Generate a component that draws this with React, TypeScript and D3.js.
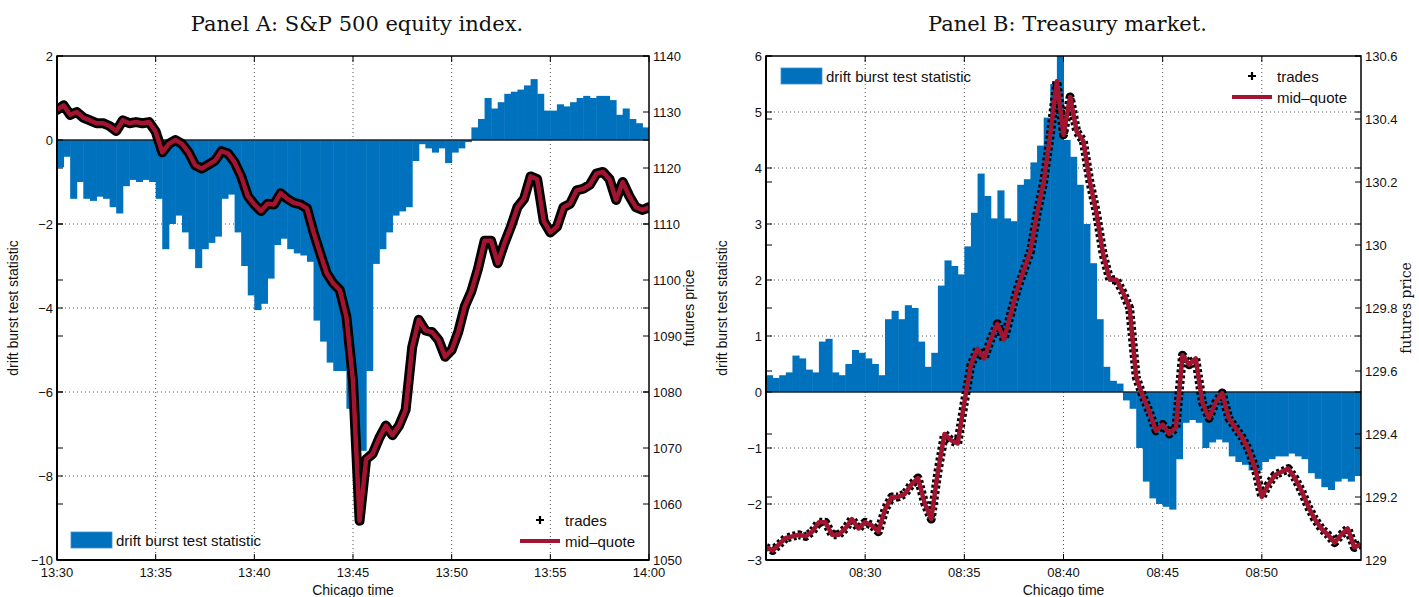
import React from 'react'
import * as d3 from 'd3'

// Panel A: S&P 500 futures, 13:30 - 14:00, one value every 20 seconds
const A_DRIFT = [
  -0.65, -0.4, -1.4, -1.0, -1.4, -1.45, -1.35, -1.4, -1.6, -1.75,
  -1.1, -0.95, -1.0, -0.95, -1.0, -1.4, -2.6, -2.0, -1.8, -2.2,
  -2.6, -3.05, -2.6, -2.45, -2.3, -1.4, -1.3, -2.2, -3.0, -3.7,
  -4.05, -3.9, -3.3, -2.5, -2.35, -2.6, -2.7, -2.75, -2.9, -4.3,
  -4.8, -5.3, -5.5, -5.5, -6.4, -7.8, -7.4, -5.5, -2.95, -2.6,
  -2.2, -1.8, -1.7, -1.6, -0.5, -0.1, -0.2, -0.3, -0.2, -0.55,
  -0.3, -0.2, -0.05, 0.3, 0.5, 1.0, 0.75, 0.9, 1.1, 1.15,
  1.2, 1.3, 1.45, 1.1, 0.7, 0.7, 0.85, 0.8, 0.9, 1.0,
  1.05, 1.0, 1.05, 1.05, 0.95, 0.6, 0.75, 0.5, 0.4, 0.3
]
const A_PRICE = [
  1130.4, 1131.2, 1129.5, 1130, 1129, 1128.5, 1128, 1128, 1127.5, 1126.6,
  1128.5, 1128, 1128.2, 1128, 1128.2, 1126.5, 1122.8, 1124.3, 1125, 1124.3,
  1122.8, 1120.5, 1119.9, 1120.6, 1121.3, 1123, 1122.6, 1121, 1118.5, 1115,
  1113.5, 1112.3, 1113.6, 1113.5, 1115.5, 1114.5, 1113.8, 1113.5, 1112.8, 1108.5,
  1104.8, 1101.2, 1099.4, 1098.2, 1093.4, 1082, 1057, 1068, 1069, 1071.8,
  1074, 1072.3, 1074, 1076.8, 1088, 1092.9, 1091, 1090.7, 1089.3, 1086.3,
  1087.5, 1090.7, 1095.3, 1098, 1102, 1107, 1107, 1103, 1106.5, 1109.5,
  1113, 1114.5, 1118.5, 1118, 1110.5, 1108.5, 1109.5, 1113, 1113.6, 1116,
  1116.3, 1117, 1119, 1119.3, 1118, 1114.3, 1117.5, 1115, 1113, 1112.5,
  1113
]

// Panel B: Treasury futures, 08:25 - 08:55, one value every 20 seconds
const B_DRIFT = [
  0.3, 0.25, 0.3, 0.35, 0.65, 0.6, 0.4, 0.35, 0.9, 0.95,
  0.35, 0.3, 0.5, 0.75, 0.7, 0.6, 0.5, 0.3, 1.3, 1.45,
  1.3, 1.55, 1.5, 0.9, 0.45, 0.7, 1.9, 2.35, 2.25, 2.1,
  2.6, 3.2, 3.9, 3.5, 3.1, 3.6, 3.1, 3.05, 3.7, 3.8,
  4.1, 4.4, 4.9, 5.5, 6.1, 4.5, 4.2, 3.7, 3.0, 2.3,
  1.3, 0.45, 0.2, 0.15, -0.15, -0.3, -1.0, -1.6, -1.9, -2.0,
  -2.05, -2.1, -1.2, -0.55, -0.5, -0.55, -1.0, -0.9, -0.85, -0.9,
  -1.15, -1.25, -1.3, -1.4, -1.4, -1.25, -1.2, -1.15, -1.15, -1.1,
  -1.15, -1.2, -1.45, -1.55, -1.7, -1.75, -1.6, -1.55, -1.6, -1.5
]
const B_PRICE = [
  129.04, 129.03, 129.05, 129.07, 129.075, 129.08, 129.075, 129.09, 129.12, 129.12,
  129.08, 129.08, 129.1, 129.13, 129.1, 129.12, 129.11, 129.09, 129.16, 129.2,
  129.2, 129.21, 129.24, 129.26, 129.18, 129.13, 129.28, 129.4, 129.38, 129.37,
  129.5, 129.62, 129.67, 129.64, 129.7, 129.75, 129.7, 129.78, 129.86, 129.92,
  129.98, 130.1, 130.2, 130.35, 130.52, 130.35, 130.47, 130.36, 130.33, 130.2,
  130.1, 129.97, 129.89, 129.89, 129.85, 129.8, 129.58, 129.52, 129.47, 129.41,
  129.43, 129.4, 129.42, 129.65, 129.62, 129.64, 129.5, 129.45, 129.5, 129.53,
  129.45, 129.42, 129.39, 129.35, 129.29, 129.2, 129.24, 129.27, 129.28, 129.29,
  129.26, 129.22, 129.17, 129.13, 129.1, 129.08, 129.055, 129.08, 129.1, 129.04,
  129.05
]

const A_LEFT_TICKS = [-10, -8, -6, -4, -2, 0, 2]
const A_RIGHT_TICKS = [1050, 1060, 1070, 1080, 1090, 1100, 1110, 1120, 1130, 1140]
const A_X_TICKS = ['13:30', '13:35', '13:40', '13:45', '13:50', '13:55', '14:00']
const B_LEFT_TICKS = [-3, -2, -1, 0, 1, 2, 3, 4, 5, 6]
const B_RIGHT_TICKS = [129, 129.2, 129.4, 129.6, 129.8, 130, 130.2, 130.4, 130.6]
const B_X_TICKS = ['08:30', '08:35', '08:40', '08:45', '08:50']

const BLUE = '#0072BD'
const RED = '#A2142F'
const SANS = '"Liberation Sans", Arial, Helvetica, sans-serif'
const SERIF = '"DejaVu Serif", Georgia, serif'

const toMin = (s: string) => {
  const [h, m] = s.split(':').map(Number)
  return h * 60 + m
}
const fmtNum = (d: number) => (d < 0 ? '\u2212' + Math.abs(d) : String(+d.toFixed(1)))

interface PanelProps {
  id: string
  title: string
  l: number
  r: number
  t: number
  b: number
  xStart: string
  xEnd: string
  xTicks: string[]
  leftDomain: [number, number]
  leftTicks: number[]
  rightDomain: [number, number]
  rightTicks: number[]
  drift: number[]
  price: number[]
  dashedTrades: boolean
  rightLabelFont: string
  rightLabelOffset: number
  legendTop: boolean
}

const Panel: React.FC<PanelProps> = p => {
  const x0 = toMin(p.xStart)
  const x1 = toMin(p.xEnd)
  const step = 1 / 3
  const x = d3.scaleLinear().domain([x0, x1]).range([p.l, p.r])
  const yL = d3.scaleLinear().domain(p.leftDomain).range([p.b, p.t])
  const yR = d3.scaleLinear().domain(p.rightDomain).range([p.b, p.t])
  const line = d3.line<number>()
    .x((_, i) => x(x0 + i * step))
    .y(d => yR(d))
  const pricePath = line(p.price) ?? ''
  const cx = (p.l + p.r) / 2
  const cy = (p.t + p.b) / 2
  const tickLen = 6

  // legend anchors
  const lgLeft = p.legendTop
    ? { x: p.l + 15, y: p.t + 12 }
    : { x: p.l + 14, y: p.b - 28 }
  const lgRight = p.legendTop
    ? { x: p.r - 129, y: p.t + 20 }
    : { x: p.r - 129, y: p.b - 40 }

  return (
    <g>
      <defs>
        <clipPath id={`clip-${p.id}`}>
          <rect x={p.l} y={p.t} width={p.r - p.l} height={p.b - p.t} />
        </clipPath>
      </defs>
      <text x={cx + 4} y={31} textAnchor="middle" fontFamily={SERIF} fontSize={21} fill="#111">
        {p.title}
      </text>

      {/* grid */}
      <g stroke="#555" strokeWidth={1} strokeDasharray="1 3">
        {p.xTicks.map(s => toMin(s)).filter(v => v > x0 && v < x1).map(v => (
          <line key={v} x1={x(v)} x2={x(v)} y1={p.t} y2={p.b} />
        ))}
        {p.leftTicks.filter(v => v !== 0 && v > p.leftDomain[0] && v < p.leftDomain[1]).map(v => (
          <line key={v} x1={p.l} x2={p.r} y1={yL(v)} y2={yL(v)} />
        ))}
      </g>

      <g clipPath={`url(#clip-${p.id})`}>
        {/* drift burst bars */}
        <g fill={BLUE}>
          {p.drift.map((v, i) => {
            const xa = x(x0 + i * step)
            const xb = x(x0 + (i + 1) * step)
            return (
              <rect key={i} x={xa} width={xb - xa + 0.5}
                y={Math.min(yL(v), yL(0))} height={Math.abs(yL(v) - yL(0))} />
            )
          })}
        </g>
        <line x1={p.l} x2={p.r} y1={yL(0)} y2={yL(0)} stroke="#1a2430" strokeWidth={1.3} />
        {/* trades band and mid-quote */}
        {p.dashedTrades ? (
          <path d={pricePath} fill="none" stroke="#000" strokeWidth={9}
            strokeDasharray="3 2.5" strokeLinejoin="round" />
        ) : (
          <path d={pricePath} fill="none" stroke="#000" strokeWidth={10}
            strokeLinejoin="round" strokeLinecap="round" />
        )}
        <path d={pricePath} fill="none" stroke={RED} strokeWidth={4.5} strokeLinejoin="round" />
      </g>

      {/* box */}
      <rect x={p.l} y={p.t} width={p.r - p.l} height={p.b - p.t} fill="none" stroke="#000" strokeWidth={1.5} />
      <line x1={p.l} x2={p.r} y1={p.b} y2={p.b} stroke="#000" strokeWidth={2} />
      <line x1={p.l} x2={p.l} y1={p.t} y2={p.b} stroke="#000" strokeWidth={2} />

      {/* ticks, inward on all four sides */}
      <g stroke="#000" strokeWidth={1}>
        {p.xTicks.map(s => (
          <g key={s}>
            <line x1={x(toMin(s))} x2={x(toMin(s))} y1={p.b} y2={p.b - tickLen} />
            <line x1={x(toMin(s))} x2={x(toMin(s))} y1={p.t} y2={p.t + tickLen} />
          </g>
        ))}
        {p.leftTicks.map(v => (
          <g key={'l' + v}>
            <line x1={p.l} x2={p.l + tickLen} y1={yL(v)} y2={yL(v)} />
            <line x1={p.r} x2={p.r - tickLen} y1={yL(v)} y2={yL(v)} />
          </g>
        ))}
        {p.rightTicks.map(v => (
          <g key={'r' + v}>
            <line x1={p.l} x2={p.l + tickLen} y1={yR(v)} y2={yR(v)} />
            <line x1={p.r} x2={p.r - tickLen} y1={yR(v)} y2={yR(v)} />
          </g>
        ))}
      </g>

      {/* tick labels */}
      <g fontFamily={SANS} fontSize={13} fill="#111">
        {p.xTicks.map(s => (
          <text key={s} x={x(toMin(s))} y={p.b + 17} textAnchor="middle">{s}</text>
        ))}
        {p.leftTicks.map(v => (
          <text key={'l' + v} x={p.l - 4} y={yL(v)} dy="0.35em" textAnchor="end">{fmtNum(v)}</text>
        ))}
        {p.rightTicks.map(v => (
          <text key={'r' + v} x={p.r + 4} y={yR(v)} dy="0.35em" textAnchor="start">{fmtNum(v)}</text>
        ))}
      </g>

      {/* axis labels */}
      <text x={cx} y={p.b + 35} textAnchor="middle" fontFamily={SANS} fontSize={14} fill="#111">Chicago time</text>
      <text transform={`translate(${p.l - 39},${cy}) rotate(-90)`} textAnchor="middle"
        fontFamily={SANS} fontSize={14} fill="#111">drift burst test statistic</text>
      <text transform={`translate(${p.r + p.rightLabelOffset},${cy}) rotate(-90)`} textAnchor="middle"
        fontFamily={p.rightLabelFont} fontSize={14} fill="#111">futures price</text>

      {/* legends */}
      <g fontFamily={SANS} fontSize={15} fill="#111">
        <rect x={lgLeft.x} y={lgLeft.y} width={41} height={16} fill={BLUE} stroke="#3d8fd0" strokeWidth={0.8} />
        <text x={lgLeft.x + 45} y={lgLeft.y + 14}>drift burst test statistic</text>

        <path d={`M${lgRight.x + 20 - 4},${lgRight.y}H${lgRight.x + 20 + 4}M${lgRight.x + 20},${lgRight.y - 4}V${lgRight.y + 4}`}
          stroke="#000" strokeWidth={2.2} />
        <text x={lgRight.x + 45} y={lgRight.y + 6}>trades</text>
        <line x1={lgRight.x} x2={lgRight.x + 40} y1={lgRight.y + 21} y2={lgRight.y + 21} stroke={RED} strokeWidth={4} />
        <text x={lgRight.x + 45} y={lgRight.y + 27}>mid{'\u2013'}quote</text>
      </g>
    </g>
  )
}

export default function App() {
  return (
    <svg width={1419} height={597} style={{ position: 'absolute', left: 0, top: 0, background: '#fff' }}>
      <rect width={1419} height={597} fill="#fff" />
      <Panel id="a" title="Panel A: S&P 500 equity index."
        l={57} r={649} t={56} b={560}
        xStart="13:30" xEnd="14:00" xTicks={A_X_TICKS}
        leftDomain={[-10, 2]} leftTicks={A_LEFT_TICKS}
        rightDomain={[1050, 1140]} rightTicks={A_RIGHT_TICKS}
        drift={A_DRIFT} price={A_PRICE} dashedTrades={false}
        rightLabelFont={SANS} rightLabelOffset={45} legendTop={false} />
      <Panel id="b" title="Panel B: Treasury market."
        l={766} r={1361} t={56} b={560}
        xStart="08:25" xEnd="08:55" xTicks={B_X_TICKS}
        leftDomain={[-3, 6]} leftTicks={B_LEFT_TICKS}
        rightDomain={[129, 130.6]} rightTicks={B_RIGHT_TICKS}
        drift={B_DRIFT} price={B_PRICE} dashedTrades={true}
        rightLabelFont={SERIF} rightLabelOffset={50} legendTop={true} />
    </svg>
  )
}
